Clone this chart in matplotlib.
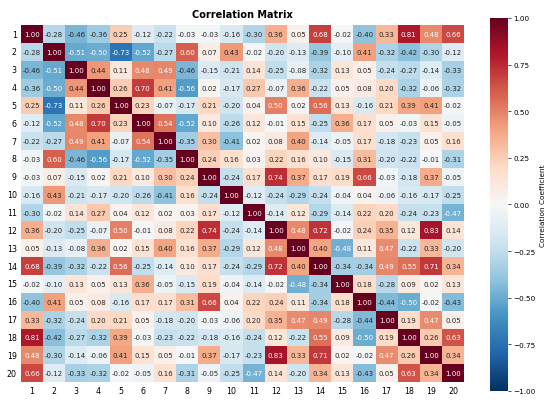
import matplotlib
matplotlib.use("Agg")
import matplotlib.pyplot as plt
import seaborn as sns
import numpy as np

# variable labels
labels = [str(i) for i in range(1, 21)]

# correlation matrix, read row by row
corr_rows = [
    [1.00, -0.28, -0.46, -0.36, 0.25, -0.12, -0.22, -0.03, -0.03, -0.16, -0.30, 0.36, 0.05, 0.68, -0.02, -0.40, 0.33, 0.81, 0.48, 0.66],
    [-0.28, 1.00, -0.51, -0.50, -0.73, -0.52, -0.27, 0.60, 0.07, 0.43, -0.02, -0.20, -0.13, -0.39, -0.10, 0.41, -0.32, -0.42, -0.30, -0.12],
    [-0.46, -0.51, 1.00, 0.44, 0.11, 0.48, 0.49, -0.46, -0.15, -0.21, 0.14, -0.25, -0.08, -0.32, 0.13, 0.05, -0.24, -0.27, -0.14, -0.33],
    [-0.36, -0.50, 0.44, 1.00, 0.26, 0.70, 0.41, -0.56, 0.02, -0.17, 0.27, -0.07, 0.36, -0.22, 0.05, 0.08, 0.20, -0.32, -0.06, -0.32],
    [0.25, -0.73, 0.11, 0.26, 1.00, 0.23, -0.07, -0.17, 0.21, -0.20, 0.04, 0.50, 0.02, 0.56, 0.13, -0.16, 0.21, 0.39, 0.41, -0.02],
    [-0.12, -0.52, 0.48, 0.70, 0.23, 1.00, 0.54, -0.52, 0.10, -0.26, 0.12, -0.01, 0.15, -0.25, 0.36, 0.17, 0.05, -0.03, 0.15, -0.05],
    [-0.22, -0.27, 0.49, 0.41, -0.07, 0.54, 1.00, -0.35, 0.30, -0.41, 0.02, 0.08, 0.40, -0.14, -0.05, 0.17, -0.18, -0.23, 0.05, 0.16],
    [-0.03, 0.60, -0.46, -0.56, -0.17, -0.52, -0.35, 1.00, 0.24, 0.16, 0.03, 0.22, 0.16, 0.10, -0.15, 0.31, -0.20, -0.22, -0.01, -0.31],
    [-0.03, 0.07, -0.15, 0.02, 0.21, 0.10, 0.30, 0.24, 1.00, -0.24, 0.17, 0.74, 0.37, 0.17, 0.19, 0.66, -0.03, -0.18, 0.37, -0.05],
    [-0.16, 0.43, -0.21, -0.17, -0.20, -0.26, -0.41, 0.16, -0.24, 1.00, -0.12, -0.24, -0.29, -0.24, -0.04, 0.04, -0.06, -0.16, -0.17, -0.25],
    [-0.30, -0.02, 0.14, 0.27, 0.04, 0.12, 0.02, 0.03, 0.17, -0.12, 1.00, -0.14, 0.12, -0.29, -0.14, 0.22, 0.20, -0.24, -0.23, -0.47],
    [0.36, -0.20, -0.25, -0.07, 0.50, -0.01, 0.08, 0.22, 0.74, -0.24, -0.14, 1.00, 0.48, 0.72, -0.02, 0.24, 0.35, 0.12, 0.83, 0.14],
    [0.05, -0.13, -0.08, 0.36, 0.02, 0.15, 0.40, 0.16, 0.37, -0.29, 0.12, 0.48, 1.00, 0.40, -0.48, 0.11, 0.47, -0.22, 0.33, -0.20],
    [0.68, -0.39, -0.32, -0.22, 0.56, -0.25, -0.14, 0.10, 0.17, -0.24, -0.29, 0.72, 0.40, 1.00, -0.34, -0.34, 0.49, 0.55, 0.71, 0.34],
    [-0.02, -0.10, 0.13, 0.05, 0.13, 0.36, -0.05, -0.15, 0.19, -0.04, -0.14, -0.02, -0.48, -0.34, 1.00, 0.18, -0.28, 0.09, 0.02, 0.13],
    [-0.40, 0.41, 0.05, 0.08, -0.16, 0.17, 0.17, 0.31, 0.66, 0.04, 0.22, 0.24, 0.11, -0.34, 0.18, 1.00, -0.44, -0.50, -0.02, -0.43],
    [0.33, -0.32, -0.24, 0.20, 0.21, 0.05, -0.18, -0.20, -0.03, -0.06, 0.20, 0.35, 0.47, 0.49, -0.28, -0.44, 1.00, 0.19, 0.47, 0.05],
    [0.81, -0.42, -0.27, -0.32, 0.39, -0.03, -0.23, -0.22, -0.18, -0.16, -0.24, 0.12, -0.22, 0.55, 0.09, -0.50, 0.19, 1.00, 0.26, 0.63],
    [0.48, -0.30, -0.14, -0.06, 0.41, 0.15, 0.05, -0.01, 0.37, -0.17, -0.23, 0.83, 0.33, 0.71, 0.02, -0.02, 0.47, 0.26, 1.00, 0.34],
    [0.66, -0.12, -0.33, -0.32, -0.02, -0.05, 0.16, -0.31, -0.05, -0.25, -0.47, 0.14, -0.20, 0.34, 0.13, -0.43, 0.05, 0.63, 0.34, 1.00],
]
cbar_ticks = [-1.00, -0.75, -0.50, -0.25, 0.00, 0.25, 0.50, 0.75, 1.00]

corr = np.array(corr_rows)

fig = plt.figure(figsize=(5.5, 4.02), dpi=100)
ax = fig.add_axes([0.038, 0.047, 0.806, 0.888])
cax = fig.add_axes([0.891, 0.025, 0.032, 0.928])

sns.heatmap(corr, ax=ax, cbar_ax=cax, cmap="RdBu_r", vmin=-1, vmax=1,
            annot=True, fmt=".2f", annot_kws={"size": 5.0},
            xticklabels=labels, yticklabels=labels,
            cbar_kws={"ticks": cbar_ticks})

ax.tick_params(axis="both", length=0, labelsize=5.7, pad=3)
ax.set_yticklabels(labels, rotation=0)
ax.set_title("Correlation Matrix", fontsize=7, fontweight="bold", pad=6)

cax.tick_params(labelsize=5.2, length=2.5, width=0.5, pad=1.5)
cax.set_yticklabels([f"{t:.2f}".replace("-", "\u2212") for t in cbar_ticks])
cax.set_ylabel("Correlation Coefficient", fontsize=5.3, labelpad=3)

fig.savefig("out.png", dpi=100)
